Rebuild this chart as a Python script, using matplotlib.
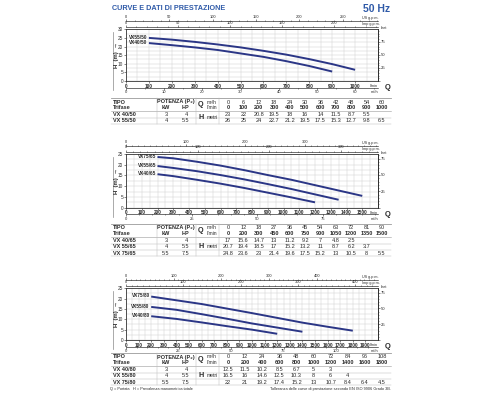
import numpy as np
import matplotlib.pyplot as plt
from matplotlib import font_manager
from matplotlib.lines import Line2D

# ---- dati grafico 1 (VX .../50) ----
q1_m3h = [0, 6, 12, 18, 24, 30, 36, 42, 48, 54, 60]
q1_lmin = [0, 100, 200, 300, 400, 500, 600, 700, 800, 900, 1000]
tipo1 = ["VX 40/50", "VX 55/50"]
kw1 = ["3", "4"]
hp1 = ["4", "5.5"]
h1 = [[23, 22, 20.8, 19.5, 18, 16, 14, 11.5, 8.7, 5.5],
      [26, 25, 24, 22.7, 21.2, 19.5, 17.5, 15.3, 12.7, 9.8, 6.5]]

# ---- dati grafico 2 (VX .../65) ----
q2_m3h = [0, 12, 18, 27, 36, 45, 54, 63, 72, 81, 90]
q2_lmin = [0, 200, 300, 450, 600, 750, 900, 1050, 1200, 1350, 1500]
tipo2 = ["VX 40/65", "VX 55/65", "VX 75/65"]
kw2 = ["3", "4", "5.5"]
hp2 = ["4", "5.5", "7.5"]
h2 = [[17, 15.6, 14.7, 13, 11.2, 9.2, 7, 4.8, 2.5],
      [20.7, 19.4, 18.5, 17, 15.2, 13.2, 11, 8.7, 6.2, 3.7],
      [24.8, 23.6, 23, 21.4, 19.6, 17.5, 15.2, 13, 10.5, 8, 5.5]]

# ---- dati grafico 3 (VX .../80) ----
q3_m3h = [0, 12, 24, 36, 48, 60, 72, 84, 96, 108]
q3_lmin = [0, 200, 400, 600, 800, 1000, 1200, 1400, 1600, 1800]
tipo3 = ["VX 40/80", "VX 55/80", "VX 75/80"]
kw3 = ["3", "4", "5.5"]
hp3 = ["4", "5.5", "7.5"]
h3 = [[12.5, 11.5, 10.2, 8.5, 6.7, 5, 3],
      [16.5, 16, 14.6, 12.5, 10.3, 8, 6, 4],
      [22, 21, 19.2, 17.4, 15.2, 13, 10.7, 8.4, 6.4, 4.5]]

# font stretto se disponibile
nomi = {f.name for f in font_manager.fontManager.ttflist}
stretto = "Liberation Sans Narrow" if "Liberation Sans Narrow" in nomi else "Liberation Sans"
plt.rcParams["font.family"] = [stretto, "DejaVu Sans"]

W, H = 500, 400
BLU = "#2b3686"
TITOLO = "#2f5aa8"
TXT = "#2b2b2b"
FS = 3.4

fig = plt.figure(figsize=(5, 4), dpi=100)


def fx(x):
    return x / W


def fy(y):
    return 1 - y / H


def grafico(top, bottom, xmax, xticks, ymax, q, hh, tipo, m3h_ticks, us_ticks, imp_ticks):
    hpx = bottom - top
    ax = fig.add_axes([fx(126), fy(bottom), fx(378) - fx(126), (bottom - top) / H])
    for i, h in enumerate(hh):
        ax.plot(q[1:len(h)], h[1:], color=BLU, lw=1.4, solid_capstyle="butt")
        ax.annotate(tipo[i].replace(" ", ""), (q[1], h[1]), xytext=(-1, 0.5), textcoords="offset points",
                    ha="right", va="center", fontsize=FS, weight="bold", color=TXT)
    ax.set_xlim(0, xmax)
    ax.set_ylim(0, ymax)
    ax.set_xticks(xticks)
    ax.set_xticklabels([str(v) for v in xticks], fontweight="bold")
    ax.set_xticks(np.arange(0, xmax, 50), minor=True)
    ax.set_yticks(np.arange(0, ymax + 1, 5))
    ax.set_yticks(np.arange(0, ymax, 2.5), minor=True)
    ax.grid(which="both", color="#c9c9c9", lw=0.3)
    ax.tick_params(labelsize=FS, length=1.2, width=0.4, pad=0.8, colors=TXT)
    ax.tick_params(which="minor", length=0)
    for s in ax.spines.values():
        s.set_linewidth(0.6)
        s.set_color("#333333")
    ax.text(xmax * 0.985, -3.0 / hpx, "l/min", transform=ax.get_xaxis_transform(),
            ha="center", va="top", fontsize=FS - 0.6, color=TXT)

    # asse destro in piedi
    ft = ax.secondary_yaxis("right", functions=(lambda m: m * 3.2808, lambda f: f / 3.2808))
    ft.set_yticks([0, 25, 50, 75])
    ft.set_yticklabels(["", "25", "50", "75"])
    ft.set_yticks(np.arange(0, ymax * 3.28, 5), minor=True)
    ft.tick_params(labelsize=FS - 0.3, length=1.2, width=0.4, pad=0.8, colors=TXT)
    ft.tick_params(which="minor", length=0.7, width=0.3)
    ft.spines["right"].set_linewidth(0.6)
    ax.text(1.01, 0.985, "feet", transform=ax.transAxes, ha="left", va="bottom", fontsize=FS - 0.6, color=TXT)

    # asse m3/h sotto
    m3 = ax.secondary_xaxis(-6.5 / hpx, functions=(lambda l: l * 0.06, lambda m: m / 0.06))
    m3.set_xticks(m3h_ticks)
    m3.set_xticks(np.arange(0, xmax * 0.06, 5), minor=True)
    m3.tick_params(labelsize=FS - 0.4, length=1.2, width=0.4, pad=0.5, colors=TXT)
    m3.tick_params(which="minor", length=0.7, width=0.3)
    m3.spines["bottom"].set_linewidth(0.4)
    ax.text(xmax * 0.985, -9.3 / hpx, "m³/h", transform=ax.get_xaxis_transform(),
            ha="center", va="top", fontsize=FS - 0.6, color=TXT)

    # assi g.p.m. sopra
    us = ax.secondary_xaxis(1 + 8 / hpx, functions=(lambda l: l / 3.785, lambda g: g * 3.785))
    us.set_xticks(us_ticks)
    us.set_xticks(np.arange(0, xmax / 3.785, 10), minor=True)
    imp = ax.secondary_xaxis(1 + 2.3 / hpx, functions=(lambda l: l / 4.546, lambda g: g * 4.546))
    imp.set_xticks(imp_ticks)
    imp.set_xticks(np.arange(0, xmax / 4.546, 10), minor=True)
    for sx in (us, imp):
        sx.tick_params(labelsize=FS - 0.5, length=1.2, width=0.4, pad=0.4, colors=TXT)
        sx.tick_params(which="minor", length=0.7, width=0.3)
        sx.spines["top"].set_linewidth(0.4)
    ax.text(xmax * 0.97, 1 + 9 / hpx, "US g.p.m.", transform=ax.get_xaxis_transform(),
            ha="center", va="bottom", fontsize=FS - 0.7, color=TXT)
    ax.text(xmax * 0.97, 1 + 3.3 / hpx, "Imp g.p.m.", transform=ax.get_xaxis_transform(),
            ha="center", va="bottom", fontsize=FS - 0.7, color=TXT)

    # etichette H e Q
    fig.text(fx(116.5), fy((top + bottom) / 2), "H  (m)  →", rotation=90, ha="center", va="center",
             fontsize=FS + 0.8, weight="bold", color=TXT)
    fig.add_artist(Line2D([fx(112.5), fx(112.5)], [fy(top + 3), fy(bottom + 9)], color="#888888", lw=0.5))
    fig.text(fx(388), fy(bottom + 6.5), "Q", ha="center", va="center", fontsize=5.5, weight="bold", color=TXT)
    return ax


def tabella(top, q_m3h, q_lmin, tipo, kw, hp, hh):
    n = len(q_lmin)
    xs = np.linspace(228, 382, n)
    y_tipo = top + 4
    y_tri = top + 9.7
    y_rows = [top + 16.5 + 6.3 * i for i in range(len(tipo))]
    bottom = y_rows[-1] + 3.2
    kw_ = dict(fontsize=FS + 0.6, color=TXT, va="center")

    fig.add_artist(Line2D([fx(111), fx(391)], [fy(top), fy(top)], color="#9a9a9a", lw=0.6))
    fig.add_artist(Line2D([fx(111), fx(391)], [fy(top + 12.8), fy(top + 12.8)], color="#9a9a9a", lw=0.4))
    for y in y_rows:
        fig.add_artist(Line2D([fx(111), fx(391)], [fy(y + 3.15), fy(y + 3.15)], color="#bdbdbd", lw=0.35))
    for x in (157, 196, 219):
        fig.add_artist(Line2D([fx(x), fx(x)], [fy(top), fy(bottom)], color="#bdbdbd", lw=0.35))

    fig.text(fx(113), fy(y_tipo), "TIPO", ha="left", weight="bold", **kw_)
    fig.text(fx(113), fy(y_tri), "Trifase", ha="left", weight="bold", **kw_)
    fig.text(fx(176), fy(y_tipo), "POTENZA (P₂)", ha="center", weight="bold", **kw_)
    fig.text(fx(166), fy(y_tri), "kW", ha="center", weight="bold", **kw_)
    fig.text(fx(186), fy(y_tri), "HP", ha="center", weight="bold", **kw_)
    fig.text(fx(201), fy((y_tipo + y_tri) / 2), "Q", ha="center", weight="bold", fontsize=5.2, color=TXT, va="center")
    fig.text(fx(212), fy(y_tipo), "m³/h", ha="center", fontsize=FS + 0.2, color=TXT, va="center")
    fig.text(fx(212), fy(y_tri), "l/min", ha="center", fontsize=FS + 0.2, color=TXT, va="center")
    ymid = (y_rows[0] + y_rows[-1]) / 2
    fig.text(fx(201), fy(ymid), "H", ha="center", weight="bold", fontsize=5.2, color=TXT, va="center")
    fig.text(fx(212), fy(ymid), "metri", ha="center", fontsize=FS + 0.2, color=TXT, va="center")

    for x, a, b in zip(xs, q_m3h, q_lmin):
        fig.text(fx(x), fy(y_tipo), str(a), ha="center", **kw_)
        fig.text(fx(x), fy(y_tri), str(b), ha="center", weight="bold", **kw_)
    for i, y in enumerate(y_rows):
        fig.text(fx(113), fy(y), tipo[i], ha="left", weight="bold", **kw_)
        fig.text(fx(166), fy(y), kw[i], ha="center", **kw_)
        fig.text(fx(186), fy(y), hp[i], ha="center", **kw_)
        for x, v in zip(xs, hh[i]):
            fig.text(fx(x), fy(y), f"{v:g}", ha="center", **kw_)


fig.text(fx(112), fy(9), "CURVE E DATI DI PRESTAZIONE", ha="left", va="center", fontsize=5.2,
         weight="bold", color=TITOLO)
fig.text(fx(390), fy(9), "50 Hz", ha="right", va="center", fontsize=7.5, weight="bold", color=TITOLO)

grafico(29.3, 81, 1100, list(range(0, 1001, 100)), 30, q1_lmin, h1, tipo1,
        [0, 10, 20, 30, 40, 50, 60], [0, 50, 100, 150, 200, 250], [0, 50, 100, 150, 200])
tabella(98, q1_m3h, q1_lmin, tipo1, kw1, hp1, h1)

grafico(154, 207.7, 1600, list(range(0, 1501, 100)), 25, q2_lmin, h2, tipo2,
        [0, 25, 50, 75], [0, 100, 200, 300], [0, 100, 200, 300])
tabella(224, q2_m3h, q2_lmin, tipo2, kw2, hp2, h2)

grafico(288.3, 340, 2000, list(range(0, 1901, 100)), 25, q3_lmin, h3, tipo3,
        [0, 25, 50, 75, 100], [0, 100, 200, 300, 400], [0, 100, 200, 300, 400])
tabella(353, q3_m3h, q3_lmin, tipo3, kw3, hp3, h3)

fig.text(fx(110), fy(389), "Q = Portata   H = Prevalenza manometrica totale", ha="left", va="center",
         fontsize=2.8, color=TXT)
fig.text(fx(391), fy(389), "Tolleranza delle curve di prestazione secondo EN ISO 9906 Grado 3B.",
         ha="right", va="center", fontsize=2.8, color=TXT)

plt.savefig("out.png", dpi=100)
